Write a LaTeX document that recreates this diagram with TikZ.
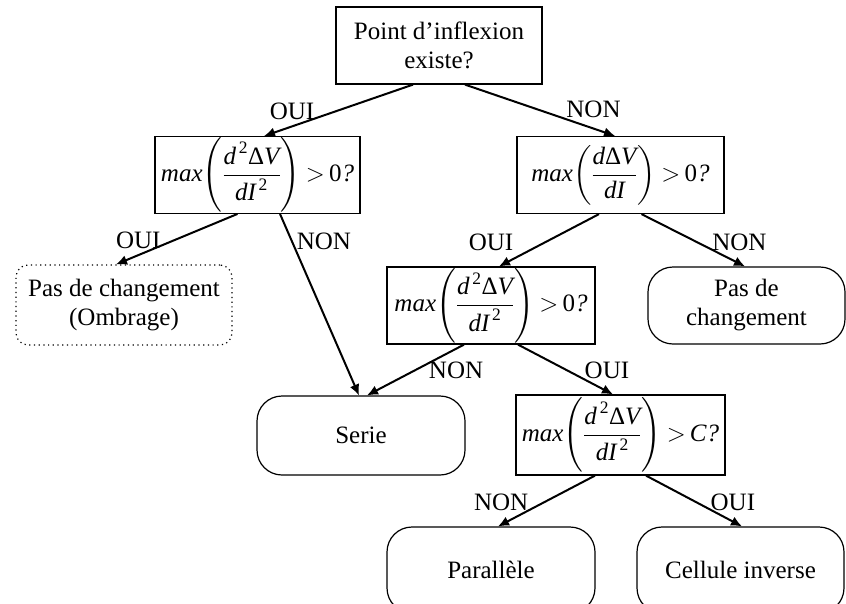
\documentclass[tikz,border=0pt]{standalone}
\usepackage{fontspec}
\setmainfont{Liberation Serif}
\usepackage{amsmath}
\usetikzlibrary{arrows.meta,calc}

\newcommand{\mi}[1]{\text{\itshape #1}}
\newcommand{\gtsign}{\mathclose{}\mkern4mu{>}\mkern3mu}
\newcommand{\dsecond}[1]{$\mi{max}\mathopen{}\left(\dfrac{\mi{d}^{\,\text{2}}\text{Δ}\mi{V}}{\mi{dI}^{\,\text{2}}}\right)\gtsign#1\mi{?}$}
\newcommand{\dfirst}{$\mi{max}\mathopen{}\left(\dfrac{\mi{d}\text{Δ}\mi{V}}{\mi{dI}}\right)\gtsign\text{0}\mi{?}$}

\begin{document}
\begin{tikzpicture}[x=1pt, y=1pt, every node/.style={font=\fontsize{25}{29}\selectfont}]
    \tikzset{
        questbox/.style={draw, line width=1.2pt, rectangle, align=center, inner sep=1pt, minimum width=207pt, minimum height=77pt},
        endbox/.style={draw, line width=1.2pt, rectangle, rounded corners=25pt, align=center, minimum width=208pt, minimum height=79pt},
        arr/.style={-{Latex[length=11pt,width=10pt]}, line width=2pt},
        lbl/.style={inner sep=0pt}
    }
    \useasboundingbox (0,0) rectangle (846,-603);
    \clip (0,0) rectangle (846,-603);

    % Decision nodes
    \node [questbox, minimum width=206pt] (inflex) at (439,-45.5) {Point d'inflexion\\existe?};
    \node [questbox, minimum width=205pt, minimum height=76pt] (secleft) at (257.5,-175) {\dsecond{\text{0}}};
    \node [questbox] (firstright) at (620.5,-175) {\dfirst};
    \node [questbox, minimum width=208pt] (secmid) at (491,-305.5) {\dsecond{\text{0}}};
    \node [questbox, minimum width=209pt, minimum height=80pt] (seclow) at (620.5,-435) {\dsecond{\mi{C}}};

    % Result nodes
    \node [draw, line width=1.2pt, dash pattern=on 1.2pt off 3.5pt, rounded corners=12pt, align=center, minimum width=216pt, minimum height=80pt] (ombrage) at (124,-305) {Pas de changement\\(Ombrage)};
    \node [endbox, minimum width=197pt, minimum height=77pt] (nochange) at (746.5,-305.5) {Pas de\\changement};
    \node [endbox] (serie) at (361,-435.5) {Serie};
    \node [endbox, minimum height=86pt] (parallele) at (491,-570) {Parallèle};
    \node [endbox, minimum width=207pt, minimum height=86pt] (inverse) at (740.5,-570) {Cellule inverse};

    % Paths
    \draw [arr] ([xshift=-26pt]inflex.south) -- node [lbl, pos=.51, xshift=-45pt] {OUI} ([xshift=6.5pt]secleft.north);
    \draw [arr] ([xshift=26pt]inflex.south) -- node [lbl, pos=.51, xshift=52pt, yshift=1pt] {NON} ([xshift=-5.5pt]firstright.north);
    \draw [arr] ([xshift=-20pt]secleft.south) -- node [lbl, pos=.52, xshift=-36pt] {OUI} ([xshift=-8pt]ombrage.north);
    \draw [arr] ([xshift=22.5pt]secleft.south) -- node [lbl, pos=.15, xshift=32pt] {NON} ([xshift=-2pt]serie.north);
    \draw [arr] ([xshift=-21.5pt]firstright.south) -- node [lbl, pos=.54, xshift=-54pt] {OUI} ([xshift=8pt]secmid.north);
    \draw [arr] ([xshift=21pt]firstright.south) -- node [lbl, pos=.54, xshift=42pt] {NON} ([xshift=-1.5pt]nochange.north);
    \draw [arr] ([xshift=-27pt]secmid.south) -- node [lbl, pos=.51, xshift=41.5pt] {NON} ([xshift=6pt]serie.north);
    \draw [arr] ([xshift=27pt]secmid.south) -- node [lbl, pos=.51, xshift=40.5pt] {OUI} ([xshift=-7.5pt]seclow.north);
    \draw [arr] ([xshift=-25.5pt]seclow.south) -- node [lbl, pos=.53, xshift=-42.5pt] {NON} ([xshift=7pt]parallele.north);
    \draw [arr] ([xshift=25.5pt]seclow.south) -- node [lbl, pos=.53, xshift=36pt] {OUI} ([xshift=1.5pt]inverse.north);
\end{tikzpicture}
\end{document}
